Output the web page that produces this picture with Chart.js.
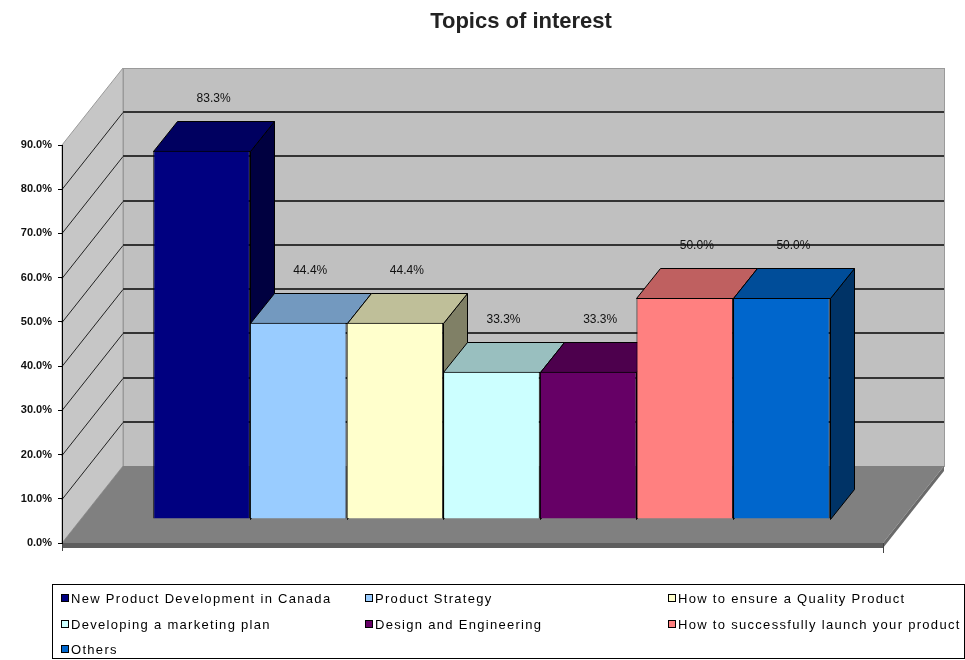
<!DOCTYPE html>
<html>
<head>
<meta charset="utf-8">
<title>Topics of interest</title>
<script src="https://cdn.jsdelivr.net/npm/chart.js@4.4.1/dist/chart.umd.min.js"></script>
<style>
  body { margin: 0; background: #fff; }
</style>
</head>
<body>
<canvas id="grafBarras" width="965" height="660"></canvas>
<script>
/* DADOS DO GRAFICO */
var titulo = 'Topics of interest';
var topicos = [
  'New Product Development in Canada',
  'Product Strategy',
  'How to ensure a Quality Product',
  'Developing a marketing plan',
  'Design and Engineering',
  'How to successfully launch your product',
  'Others'
];
var percentuais = [83.3, 44.4, 44.4, 33.3, 33.3, 50.0, 50.0];
var marcas = [0, 10, 20, 30, 40, 50, 60, 70, 80, 90];
var cores = ['#000080', '#99ccff', '#ffffcc', '#ccffff', '#660066', '#ff8080', '#0066cc'];

/* profundidade do piso/paredes e das barras (em pixels) */
var PX = 61, PY = 77;
var BX = 24, BY = 30;
var FRENTE = 24 / 77; // barras ficam no meio do piso

function escurecer(hex, f) {
  var r = parseInt(hex.substr(1, 2), 16);
  var g = parseInt(hex.substr(3, 2), 16);
  var b = parseInt(hex.substr(5, 2), 16);
  return 'rgb(' + Math.round(r * f) + ',' + Math.round(g * f) + ',' + Math.round(b * f) + ')';
}

function poligono(ctx, pts, fill, stroke) {
  ctx.beginPath();
  ctx.moveTo(pts[0][0], pts[0][1]);
  for (var i = 1; i < pts.length; i++) ctx.lineTo(pts[i][0], pts[i][1]);
  ctx.closePath();
  if (fill) { ctx.fillStyle = fill; ctx.fill(); }
  if (stroke) { ctx.strokeStyle = stroke; ctx.stroke(); }
}

/* paredes, piso, faces 3D, rotulos, titulo e legenda */
var cena3d = {
  id: 'cena3d',
  beforeDraw: function(chart) {
    var ctx = chart.ctx, a = chart.chartArea, y = chart.scales.y;
    var L = a.left, R = a.right;
    var y0 = Math.round(y.getPixelForValue(marcas[0]));
    var yt = Math.round(y.getPixelForValue(marcas[marcas.length - 1]));
    ctx.save();
    ctx.lineWidth = 1;

    // parede do fundo
    ctx.fillStyle = '#c0c0c0';
    ctx.fillRect(L + PX, yt - PY, R - L, y0 - yt);
    ctx.strokeStyle = '#9a9a9a';
    ctx.strokeRect(L + PX + 0.5, yt - PY + 0.5, R - L, y0 - yt);

    // parede lateral
    poligono(ctx, [[L, yt], [L + PX, yt - PY], [L + PX, y0 - PY], [L, y0]], '#c6c6c6', '#9a9a9a');

    // linhas de grade (fundo e lateral)
    for (var i = 1; i < marcas.length - 1; i++) {
      var py = Math.round(y.getPixelForValue(marcas[i]));
      ctx.strokeStyle = '#333';
      ctx.lineWidth = 2;
      ctx.beginPath();
      ctx.moveTo(L + PX, py - PY);
      ctx.lineTo(R + PX, py - PY);
      ctx.stroke();
      ctx.lineWidth = 1;
      ctx.strokeStyle = '#222';
      ctx.beginPath();
      ctx.moveTo(L, py + 0.5);
      ctx.lineTo(L + PX, py - PY + 0.5);
      ctx.stroke();
    }

    // piso
    poligono(ctx, [[L, y0], [R, y0], [R + PX, y0 - PY], [L + PX, y0 - PY]], '#808080');
    poligono(ctx, [[L, y0], [R, y0], [R, y0 + 5], [L, y0 + 5]], '#5e5e5e');
    poligono(ctx, [[R, y0], [R + PX, y0 - PY], [R + PX, y0 - PY + 5], [R, y0 + 5]], '#6a6a6a');

    // marcas do eixo X
    ctx.strokeStyle = '#444';
    ctx.beginPath();
    ctx.moveTo(L + 0.5, y0); ctx.lineTo(L + 0.5, y0 + 8);
    ctx.moveTo(R + 0.5, y0); ctx.lineTo(R + 0.5, y0 + 10);
    ctx.stroke();
    ctx.restore();
  },
  beforeDatasetsDraw: function(chart) {
    var ctx = chart.ctx;
    ctx.save();
    ctx.translate(Math.round(PX * FRENTE), -Math.round(PY * FRENTE));
    // faces de cima e do lado, da esquerda para a direita
    ctx.lineWidth = 1;
    chart.data.datasets.forEach(function(ds, i) {
      var bar = chart.getDatasetMeta(i).data[0];
      var esq = Math.round(bar.x - bar.width / 2) + 0.5;
      var dir = Math.round(bar.x + bar.width / 2) + 0.5;
      var topo = Math.round(bar.y) + 0.5;
      var base = Math.round(bar.base) + 0.5;
      poligono(ctx, [[dir, topo], [dir + BX, topo - BY], [dir + BX, base - BY], [dir, base]], escurecer(ds.backgroundColor, 0.5), '#000');
      poligono(ctx, [[esq, topo], [dir, topo], [dir + BX, topo - BY], [esq + BX, topo - BY]], escurecer(ds.backgroundColor, 0.75), '#000');
    });
  },
  afterDatasetsDraw: function(chart) {
    var ctx = chart.ctx;
    // rotulos de valor
    ctx.font = '12px "Liberation Sans", Arial, sans-serif';
    ctx.fillStyle = '#111';
    ctx.textAlign = 'center';
    ctx.textBaseline = 'middle';
    chart.data.datasets.forEach(function(ds, i) {
      var bar = chart.getDatasetMeta(i).data[0];
      ctx.fillText(ds.data[0].toFixed(1) + '%', bar.x + 12, bar.y - BY - 22);
    });
    ctx.restore();
  },
  afterDraw: function(chart) {
    var ctx = chart.ctx;
    ctx.save();
    // titulo
    ctx.font = 'bold 22px "Liberation Sans", Arial, sans-serif';
    ctx.fillStyle = '#222';
    ctx.textAlign = 'center';
    ctx.textBaseline = 'middle';
    ctx.fillText(titulo, 521, 22);

    // legenda em tres colunas
    ctx.strokeStyle = '#000';
    ctx.lineWidth = 1;
    ctx.strokeRect(52.5, 584.5, 912, 74);
    var colunas = [61, 365, 668];
    var linhas = [598, 624, 649];
    ctx.font = '13px "Liberation Sans", Arial, sans-serif';
    ctx.textAlign = 'left';
    ctx.letterSpacing = '1.3px';
    chart.data.datasets.forEach(function(ds, i) {
      var cx = colunas[i % 3], cy = linhas[Math.floor(i / 3)];
      ctx.fillStyle = ds.backgroundColor;
      ctx.fillRect(cx, cy - 4, 8, 8);
      ctx.strokeRect(cx + 0.5, cy - 3.5, 7, 7);
      ctx.fillStyle = '#000';
      ctx.fillText(ds.label, cx + 10, cy + 1);
    });
    ctx.restore();
  }
};

var datasets = topicos.map(function(t, i) {
  return {
    label: t,
    data: [percentuais[i]],
    backgroundColor: cores[i],
    borderColor: '#000',
    borderWidth: 1,
    barPercentage: 1,
    categoryPercentage: 0.824
  };
});

var grafico = new Chart(document.getElementById('grafBarras'), {
  type: 'bar',
  data: { labels: [''], datasets: datasets },
  plugins: [cena3d],
  options: {
    responsive: false,
    animation: false,
    devicePixelRatio: 1,
    layout: { padding: { left: 0, right: 82, top: 145, bottom: 117 } },
    plugins: {
      legend: { display: false },
      title: { display: false },
      tooltip: { enabled: false }
    },
    scales: {
      x: { display: false },
      y: {
        min: marcas[0],
        max: marcas[marcas.length - 1],
        afterFit: function(s) { s.width = 62; },
        afterBuildTicks: function(s) {
          s.ticks = marcas.map(function(v) { return { value: v }; });
        },
        ticks: {
          padding: 6,
          color: '#111',
          font: { family: '"Liberation Sans", Arial, sans-serif', size: 11, weight: 'bold' },
          callback: function(v) { return v.toFixed(1) + '%'; }
        },
        grid: { drawOnChartArea: false, tickLength: 4, color: '#000' },
        border: { color: '#000', width: 1 }
      }
    }
  }
});
</script>
</body>
</html>
